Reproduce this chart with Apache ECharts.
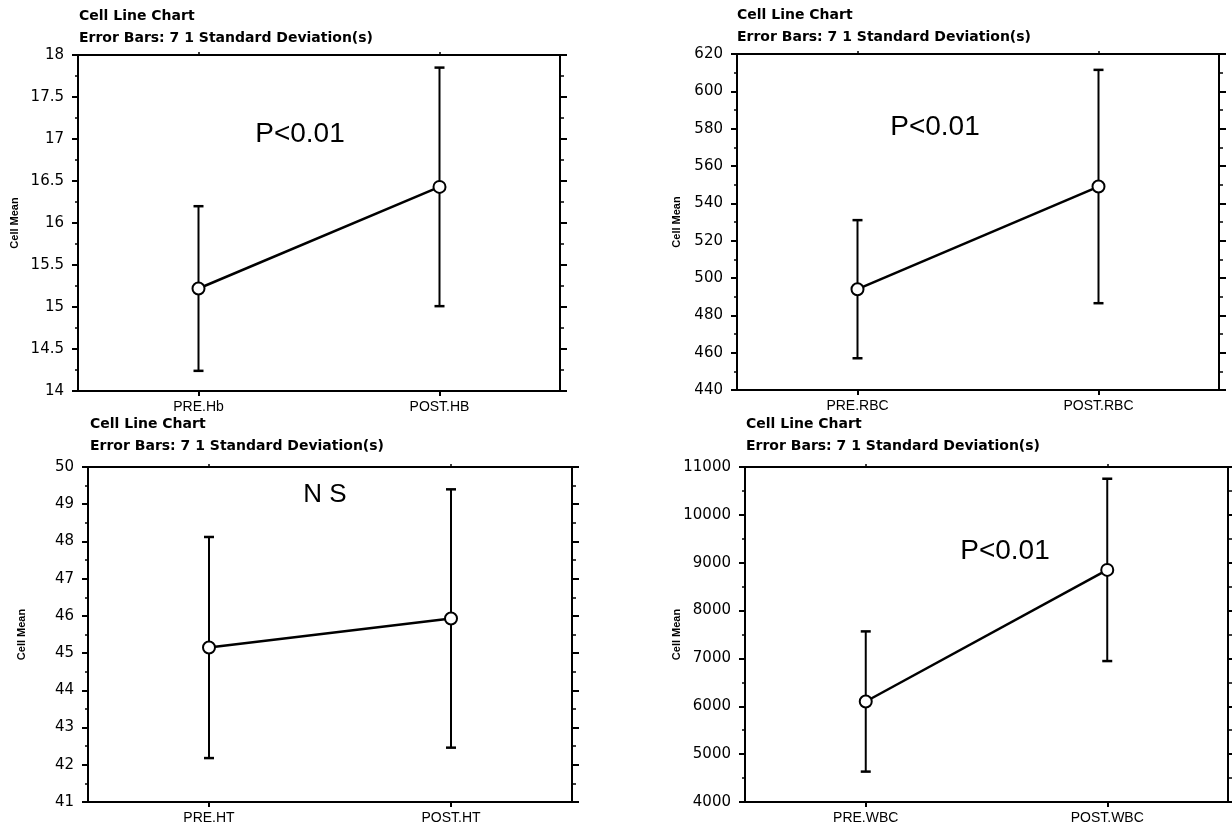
<!DOCTYPE html>
<html>
<head>
<meta charset="utf-8">
<script src="https://cdn.jsdelivr.net/npm/echarts@6/dist/echarts.min.js"></script>
<style>
html,body{margin:0;padding:0;background:#fff;}
#chart{width:1232px;height:825px;}
</style>
</head>
<body>
<div id="chart"></div>
<script>
// ---- data ----
const catsHb = ['PRE.Hb', 'POST.HB'];
const meanHb = [15.22, 16.43];
const sdHb = [0.98, 1.42];

const catsRBC = ['PRE.RBC', 'POST.RBC'];
const meanRBC = [494, 549];
const sdRBC = [37, 62.5];

const catsHT = ['PRE.HT', 'POST.HT'];
const meanHT = [45.15, 45.93];
const sdHT = [2.97, 3.47];

const catsWBC = ['PRE.WBC', 'POST.WBC'];
const meanWBC = [6100, 8850];
const sdWBC = [1465, 1905];

const axisHb = {min: 14, max: 18, interval: 0.5};
const axisRBC = {min: 440, max: 620, interval: 20};
const axisHT = {min: 41, max: 50, interval: 1};
const axisWBC = {min: 4000, max: 11000, interval: 1000};

const headerTitle = 'Cell Line Chart';
const headerSub = 'Error Bars: 7 1 Standard Deviation(s)';
const yName = 'Cell Mean';
const notes = ['P<0.01', 'P<0.01', 'N S', 'P<0.01'];

// ---- layout ----
const grids = [
  {left: 78, top: 55, width: 482, height: 336},
  {left: 737, top: 54, width: 482, height: 336},
  {left: 88, top: 467, width: 484, height: 336},
  {left: 745, top: 467, width: 483, height: 336}
];
const nameGaps = [58, 55, 61, 63];
const headerPos = [[79, 18, 40], [737, 17, 39], [90, 426, 448], [746, 426, 448]];
const notePos = [[300, 134], [935, 127], [325, 495], [1005, 551]];
const noteSizes = [28, 28, 26, 28];

const panels = [
  {cats: catsHb, mean: meanHb, sd: sdHb, ax: axisHb},
  {cats: catsRBC, mean: meanRBC, sd: sdRBC, ax: axisRBC},
  {cats: catsHT, mean: meanHT, sd: sdHT, ax: axisHT},
  {cats: catsWBC, mean: meanWBC, sd: sdWBC, ax: axisWBC}
];

const black = '#000';
const xAxes = [], yAxes = [], series = [], graphics = [];

panels.forEach((p, i) => {
  xAxes.push({
    type: 'category', gridIndex: i, data: p.cats, position: 'bottom', boundaryGap: true,
    axisLine: {show: true, lineStyle: {color: black, width: 2}},
    axisTick: {show: true, alignWithLabel: true, length: 5, lineStyle: {color: black, width: 2}},
    axisLabel: {color: black, fontSize: 14, fontFamily: 'Liberation Sans', margin: 9},
    splitLine: {show: false}
  });
  xAxes.push({
    type: 'category', gridIndex: i, data: p.cats, position: 'top', boundaryGap: true,
    axisLine: {show: true, lineStyle: {color: black, width: 2}},
    axisTick: {show: true, alignWithLabel: true, length: 3, lineStyle: {color: black, width: 1.5}},
    axisLabel: {show: false},
    splitLine: {show: false}
  });
  yAxes.push({
    type: 'value', gridIndex: i, position: 'left',
    min: p.ax.min, max: p.ax.max, interval: p.ax.interval,
    axisLine: {show: true, lineStyle: {color: black, width: 2}},
    axisTick: {show: true, length: 6, lineStyle: {color: black, width: 2}},
    minorTick: {show: true, splitNumber: 2, length: 3, lineStyle: {color: black, width: 1.5}},
    splitLine: {show: false}, minorSplitLine: {show: false},
    axisLabel: {color: black, fontSize: 15, fontFamily: 'DejaVu Sans', margin: 14,
      formatter: function (v) { return String(v); }},
    name: yName, nameLocation: 'middle', nameGap: nameGaps[i], nameMoveOverlap: false,
    nameTextStyle: {color: black, fontSize: 11, fontWeight: 'bold', fontFamily: 'Liberation Sans Narrow, Liberation Sans'}
  });
  yAxes.push({
    type: 'value', gridIndex: i, position: 'right',
    min: p.ax.min, max: p.ax.max, interval: p.ax.interval,
    axisLine: {show: true, lineStyle: {color: black, width: 2}},
    axisTick: {show: true, length: 7, lineStyle: {color: black, width: 2}},
    minorTick: {show: true, splitNumber: 2, length: 4, lineStyle: {color: black, width: 1.5}},
    splitLine: {show: false}, minorSplitLine: {show: false},
    axisLabel: {show: false}
  });

  const errData = p.mean.map((m, k) => [k, m - p.sd[k], m + p.sd[k]]);
  series.push({
    type: 'custom', xAxisIndex: 2 * i, yAxisIndex: 2 * i, z: 2,
    data: errData,
    encode: {x: 0, y: [1, 2]},
    renderItem: function (params, api) {
      const x = api.value(0);
      const lo = api.coord([x, api.value(1)]);
      const hi = api.coord([x, api.value(2)]);
      const w = 5;
      const st = {stroke: black, lineWidth: 2};
      return {
        type: 'group',
        children: [
          {type: 'line', shape: {x1: lo[0], y1: lo[1], x2: hi[0], y2: hi[1]}, style: st},
          {type: 'line', shape: {x1: hi[0] - w, y1: hi[1], x2: hi[0] + w, y2: hi[1]}, style: {stroke: black, lineWidth: 2.5}},
          {type: 'line', shape: {x1: lo[0] - w, y1: lo[1], x2: lo[0] + w, y2: lo[1]}, style: {stroke: black, lineWidth: 2.5}}
        ]
      };
    }
  });
  series.push({
    type: 'line', xAxisIndex: 2 * i, yAxisIndex: 2 * i, z: 5,
    data: p.mean,
    symbol: 'circle', symbolSize: 12, showSymbol: true,
    itemStyle: {color: '#fff', borderColor: black, borderWidth: 2},
    lineStyle: {color: black, width: 2.5}
  });

  const hp = headerPos[i];
  graphics.push({type: 'text', left: hp[0], top: hp[1] - 9,
    style: {text: headerTitle, fill: black, font: 'bold 14px "DejaVu Sans"'}});
  graphics.push({type: 'text', left: hp[0], top: hp[2] - 9,
    style: {text: headerSub, fill: black, font: 'bold 14px "DejaVu Sans"'}});
  const np = notePos[i];
  graphics.push({type: 'text', x: np[0], y: np[1],
    style: {text: notes[i], fill: black, font: noteSizes[i] + 'px "Liberation Sans"', align: 'center', verticalAlign: 'middle'}});
});

const chart = echarts.init(document.getElementById('chart'), null, {renderer: 'canvas'});
chart.setOption({
  animation: false,
  backgroundColor: '#fff',
  grid: grids,
  xAxis: xAxes,
  yAxis: yAxes,
  series: series,
  graphic: graphics
});
</script>
</body>
</html>
